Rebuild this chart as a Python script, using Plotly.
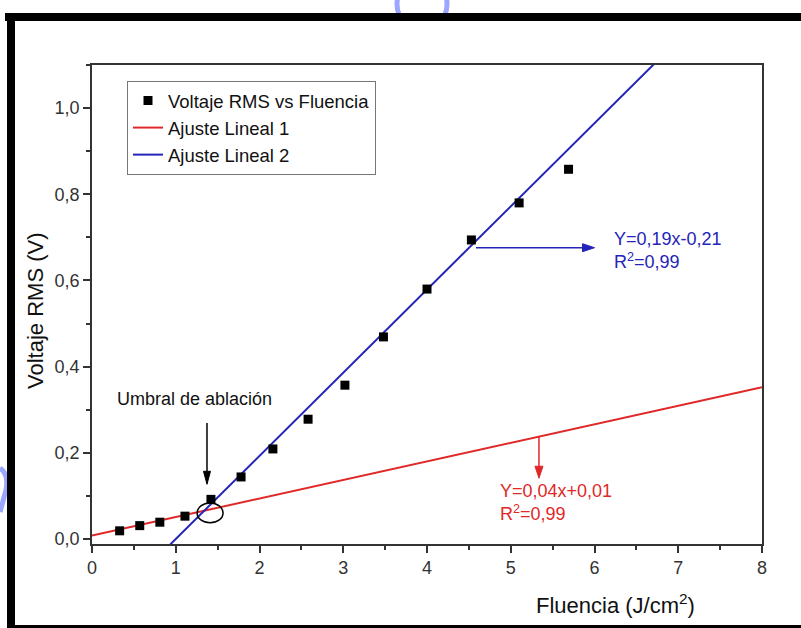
import plotly.graph_objects as go

# Measured RMS voltage versus laser fluence
fluencia = [0.33, 0.57, 0.81, 1.11, 1.42, 1.78, 2.16, 2.58, 3.02, 3.48, 4.00, 4.53, 5.10, 5.69]
voltaje = [0.019, 0.031, 0.039, 0.053, 0.092, 0.144, 0.209, 0.278, 0.357, 0.469, 0.580, 0.694, 0.780, 0.858]

# Linear fits: below and above the ablation threshold
ajuste1_pendiente, ajuste1_intercepto = 0.043, 0.008
ajuste2_pendiente, ajuste2_intercepto = 0.193, -0.193
ajuste1_rango = [0.0, 8.0]
ajuste2_rango = [0.9, 7.0]

ecuacion1 = ["Y=0,04x+0,01", "R<sup>2</sup>=0,99"]
ecuacion2 = ["Y=0,19x-0,21", "R<sup>2</sup>=0,99"]

x_ticks = [0, 1, 2, 3, 4, 5, 6, 7, 8]
y_ticks = [0.0, 0.2, 0.4, 0.6, 0.8, 1.0]

FONT = "Liberation Sans, Arial, sans-serif"
ROJO = "#e02828"
AZUL = "#2424b8"
EJE = "#333333"

W, H = 801, 628
ML, MR, MT, MB = 92, 39, 65, 84
PW, PH = W - ML - MR, H - MT - MB
X_RANGE = [0, 8]
Y_RANGE = [-0.0116, 1.1]
# data units per pixel, used to size the arrowheads
DX = (X_RANGE[1] - X_RANGE[0]) / PW
DY = (Y_RANGE[1] - Y_RANGE[0]) / PH


def px(xp):
    return (xp - ML) / PW


def py(yp):
    return (H - MB - yp) / PH


def recta(m, b, rango):
    return rango, [m * x + b for x in rango]


def flecha(x0, y0, x1, y1, color, largo=12, ancho=4):
    """Arrow from (x0, y0) to (x1, y1) in data units, as a line plus a filled head."""
    ux, uy = (x1 - x0) / DX, (y1 - y0) / DY
    n = (ux ** 2 + uy ** 2) ** 0.5
    ux, uy = ux / n, uy / n
    bx, by = x1 - ux * largo * DX, y1 - uy * largo * DY
    pxn, pyn = -uy * ancho * DX, ux * ancho * DY
    return [
        dict(type="line", xref="x", yref="y", x0=x0, y0=y0, x1=bx, y1=by,
             line=dict(color=color, width=1.5)),
        dict(type="path", xref="x", yref="y",
             path=f"M {x1},{y1} L {bx + pxn},{by + pyn} L {bx - pxn},{by - pyn} Z",
             fillcolor=color, line=dict(color=color, width=1)),
    ]


fig = go.Figure()

x1, y1 = recta(ajuste1_pendiente, ajuste1_intercepto, ajuste1_rango)
x2, y2 = recta(ajuste2_pendiente, ajuste2_intercepto, ajuste2_rango)

fig.add_trace(go.Scatter(x=x1, y=y1, mode="lines", name="Ajuste Lineal 1",
                         line=dict(color=ROJO, width=2), legendrank=2))
fig.add_trace(go.Scatter(x=x2, y=y2, mode="lines", name="Ajuste Lineal 2",
                         line=dict(color=AZUL, width=2), legendrank=3))
fig.add_trace(go.Scatter(x=fluencia, y=voltaje, mode="markers",
                         name="Voltaje RMS vs Fluencia",
                         marker=dict(symbol="square", size=9, color="black"),
                         legendrank=1))

# Intersection point of both fits, used to place the threshold marker
xi = (ajuste1_intercepto - ajuste2_intercepto) / (ajuste2_pendiente - ajuste1_pendiente)
yi = ajuste1_pendiente * xi + ajuste1_intercepto
cx, cy = xi + 0.07, yi - 0.005

shapes = [
    dict(type="circle", xref="x", yref="y", x0=cx - 0.155, x1=cx + 0.155,
         y0=cy - 0.023, y1=cy + 0.023, line=dict(color="black", width=1.5)),
]
shapes += flecha(1.373, 0.269, 1.373, 0.127, "black", largo=13, ancho=3.5)
shapes += flecha(4.585, 0.676, 6.0, 0.676, AZUL, largo=12, ancho=4)
shapes += flecha(5.337, ajuste1_pendiente * 5.337 + ajuste1_intercepto, 5.337, 0.141, ROJO,
                 largo=12, ancho=4)

# page decoration: faint blue marks and the black frame
shapes += [
    dict(type="circle", xref="paper", yref="paper", x0=px(397), x1=px(447),
         y0=py(30), y1=py(-22), line=dict(color="#9ba7ff", width=5), layer="above"),
    dict(type="rect", xref="paper", yref="paper", x0=px(385), x1=px(460),
         y0=py(45), y1=py(20), fillcolor="white", line=dict(width=0), layer="above"),
    dict(type="path", xref="paper", yref="paper",
         path=f"M {px(0)},{py(468)} Q {px(9)},{py(474)} {px(6)},{py(490)} L {px(0)},{py(512)}",
         line=dict(color="#9ba7ff", width=5), layer="above"),
    dict(type="rect", xref="paper", yref="paper", x0=px(5), x1=px(805),
         y0=py(21), y1=py(13), fillcolor="black", line=dict(width=0), layer="above"),
    dict(type="rect", xref="paper", yref="paper", x0=px(7), x1=px(15),
         y0=py(632), y1=py(13), fillcolor="black", line=dict(width=0), layer="above"),
    dict(type="rect", xref="paper", yref="paper", x0=px(7), x1=px(805),
         y0=py(630), y1=py(625), fillcolor="black", line=dict(width=0), layer="above"),
]

annotations = [
    dict(x=1.218, y=0.325, xref="x", yref="y", text="Umbral de ablación",
         xanchor="center", yanchor="middle",
         showarrow=False, font=dict(family=FONT, size=18, color="#111111")),
    dict(x=6.209, y=0.6705, xref="x", yref="y", xanchor="left", yanchor="middle",
         align="left", text="<br>".join(ecuacion2), showarrow=False,
         font=dict(family=FONT, size=18, color=AZUL)),
    dict(x=4.848, y=0.0858, xref="x", yref="y", xanchor="left", yanchor="middle",
         align="left", text="<br>".join(ecuacion1), showarrow=False,
         font=dict(family=FONT, size=18, color=ROJO)),
    dict(x=px(615), y=py(604), xref="paper", yref="paper", text="Fluencia (J/cm<sup>2</sup>)",
         xanchor="center", yanchor="middle",
         showarrow=False, font=dict(family=FONT, size=22, color="#111111")),
    dict(x=px(35), y=py(311), xref="paper", yref="paper", text="Voltaje RMS (V)",
         xanchor="center", yanchor="middle",
         textangle=-90, showarrow=False, font=dict(family=FONT, size=22, color="#111111")),
]

eje = dict(showline=True, linecolor=EJE, linewidth=1.5, mirror=True, showgrid=False,
           zeroline=False, ticks="outside", tickwidth=1.5, tickcolor=EJE, ticklen=7,
           tickfont=dict(family=FONT, size=18, color="#333333"))

fig.update_layout(
    width=W, height=H,
    margin=dict(l=ML, r=MR, t=MT, b=MB),
    paper_bgcolor="white", plot_bgcolor="white",
    separators=",.",
    showlegend=True,
    legend=dict(x=px(127), y=py(81), xanchor="left", yanchor="top",
                bgcolor="white", bordercolor="#777777", borderwidth=1,
                font=dict(family=FONT, size=18.5, color="#111111"),
                tracegroupgap=0),
    xaxis=dict(range=X_RANGE, tickvals=x_ticks,
               minor=dict(dtick=0.5, ticks="outside", ticklen=4, tickwidth=1.5, tickcolor=EJE),
               **eje),
    yaxis=dict(range=Y_RANGE, tickvals=y_ticks, tickformat=".1f",
               minor=dict(dtick=0.1, ticks="outside", ticklen=4, tickwidth=1.5, tickcolor=EJE),
               **eje),
    shapes=shapes,
    annotations=annotations,
)

fig.write_html("out.html")
